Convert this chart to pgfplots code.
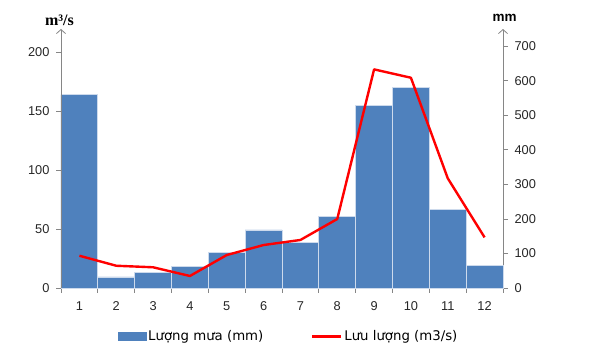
\documentclass[border=0pt]{standalone}
\usepackage{fontspec}
\setmainfont{Liberation Sans}
\newfontfamily\legfont{DejaVu Sans}
\newfontfamily\serifb{Liberation Serif}
\usepackage{pgfplots}
\pgfplotsset{compat=1.18}
\usetikzlibrary{arrows.meta}
\definecolor{barblue}{RGB}{79,129,189}
\definecolor{baredge}{RGB}{205,218,236}
\definecolor{axgray}{RGB}{134,134,134}
\definecolor{lred}{RGB}{255,0,0}
\begin{document}
\begin{tikzpicture}
\path[use as bounding box] (0,0) rectangle (600pt,364pt);
% bars: rainfall (mm), right axis
\begin{axis}[
  at={(61pt,76pt)}, anchor=south west,
  scale only axis, width=442pt, height=259pt,
  xmin=0.5, xmax=12.5, ymin=0, ymax=750,
  axis x line*=bottom, axis y line*=right,
  x axis line style={draw=axgray, line width=0.8pt, -},
  y axis line style={draw=axgray, line width=0.8pt, -{Straight Barb[length=4pt,width=9pt,line width=0.8pt]}},
  xtick={1,...,12}, major x tick style={draw=none},
  minor xtick={0.5,1.5,...,12.5},
  minor tick length=5pt,
  x tick style={draw=axgray, line width=0.8pt},
  ytick={0,100,...,700},
  y tick style={draw=axgray, line width=0.8pt},
  major tick length=5pt, tick align=outside,
  /pgf/number format/assume math mode=true,
  tick label style={font=\fontsize{12.8}{14}\selectfont, text=black!85},
  yticklabel style={xshift=3pt},
  xticklabel style={yshift=-5pt},
  clip=false,
]
\addplot[ybar, bar width=1, fill=barblue, draw=baredge, line width=0.8pt]
  coordinates {(1,560) (2,32) (3,44) (4,63) (5,102) (6,168) (7,132) (8,206) (9,529) (10,581) (11,228) (12,65)};
\end{axis}
% line: discharge (m3/s), left axis
\begin{axis}[
  at={(61pt,76pt)}, anchor=south west,
  scale only axis, width=442pt, height=259pt,
  xmin=0.5, xmax=12.5, ymin=0, ymax=220,
  hide x axis, axis y line*=left,
  y axis line style={draw=axgray, line width=0.8pt, -{Straight Barb[length=4pt,width=9pt,line width=0.8pt]}},
  ytick={0,50,...,200},
  y tick style={draw=axgray, line width=0.8pt},
  major tick length=5pt, tick align=outside,
  /pgf/number format/assume math mode=true,
  tick label style={font=\fontsize{12.8}{14}\selectfont, text=black!85},
  yticklabel style={xshift=-3pt},
  clip=false,
  legend style={draw=none, fill=none, at={(0.515,-0.188)}, anchor=center,
    legend columns=2, font=\legfont\fontsize{13.3}{15}\selectfont,
    nodes={inner xsep=1.8pt, inner ysep=0pt},
    /tikz/every even column/.append style={column sep=46pt},
    inner sep=0pt},
]
\addlegendimage{legend image code/.code={\fill[barblue] (0pt,-4pt) rectangle (28pt,4pt);}}
\addlegendentry{Lượng mưa (mm)}
\addplot[lred, line width=2.4pt, line join=round, mark=none,
  legend image code/.code={\draw[lred, line width=2.4pt] (0pt,0pt) -- (29pt,0pt);}]
  coordinates {(1,27.4) (2,18.9) (3,17.6) (4,10.2) (5,28) (6,36.5) (7,40.8) (8,58.6) (9,185.7) (10,178.6) (11,93.2) (12,43)};
\addlegendentry{Lưu lượng (m3/s)}
\end{axis}
\node[font=\serifb\bfseries\fontsize{16}{18}\selectfont] at (59.5pt,344pt) {m³/s};
\node[font=\bfseries\fontsize{13.5}{15}\selectfont] at (504.7pt,346pt) {mm};
\end{tikzpicture}
\end{document}
